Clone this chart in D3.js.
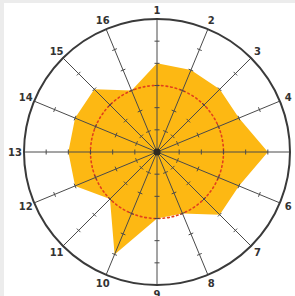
<!DOCTYPE html>
<html>
<head>
<meta charset="utf-8">
<script src="https://cdn.jsdelivr.net/npm/d3@7"></script>
<style>
  body { margin: 0; background: #fff; }
  svg { display: block; }
</style>
</head>
<body>
<svg id="chart" width="295" height="296"></svg>
<script>
// spokes numbered clockwise from the top
var spokes = ["1","2","3","4","5","6","7","8","9","10","11","12","13","14","15","16"];
var values = [4, 4, 4, 4, 5, 4, 4, 3, 3, 5, 3, 4, 4, 4, 4, 3];
var tickSteps = [1, 2, 3, 4, 5];
var maxValue = 6;
var refLevel = 3;

var svg = d3.select("#chart"),
    cx = 157, cy = 152, R = 133;

// faint scan-like border
svg.append("rect").attr("width", 295).attr("height", 296).attr("fill", "#ececec");
svg.append("rect").attr("x", 4).attr("y", 3).attr("width", 291).attr("height", 293).attr("fill", "#fff");

var g = svg.append("g").attr("transform", `translate(${cx},${cy})`);

var r = d3.scaleLinear().domain([0, maxValue]).range([0, R]);
var angle = d3.scaleBand().domain(spokes).range([0, 2 * Math.PI]).align(0);
var ang = d => angle(d); // band start == spoke angle

// filled shape
var radial = d3.lineRadial()
  .angle((d, i) => ang(spokes[i]))
  .radius(d => r(d))
  .curve(d3.curveLinearClosed);
g.append("path")
  .attr("d", radial(values))
  .attr("fill", "#fdb813");

// red dotted reference circle
g.append("circle")
  .attr("r", r(refLevel))
  .attr("fill", "none")
  .attr("stroke", "#e2401c")
  .attr("stroke-width", 1.6)
  .attr("stroke-dasharray", "1.6,3")
  .attr("stroke-linecap", "round");

// spokes
function pt(a, rad) { return [Math.sin(a) * rad, -Math.cos(a) * rad]; }
var spoke = g.selectAll(".spoke").data(spokes).enter().append("g").attr("class", "spoke");
spoke.append("line")
  .attr("x1", 0).attr("y1", 0)
  .attr("x2", d => pt(ang(d), R)[0])
  .attr("y2", d => pt(ang(d), R)[1])
  .attr("stroke", "#4a4a4a")
  .attr("stroke-width", 1);

// tick marks across each spoke
spoke.selectAll(".tick")
  .data(d => tickSteps.map(t => ({a: ang(d), t: t})))
  .enter().append("line")
  .attr("class", "tick")
  .attr("x1", d => pt(d.a, r(d.t))[0] + Math.cos(d.a) * 2.5)
  .attr("y1", d => pt(d.a, r(d.t))[1] + Math.sin(d.a) * 2.5)
  .attr("x2", d => pt(d.a, r(d.t))[0] - Math.cos(d.a) * 2.5)
  .attr("y2", d => pt(d.a, r(d.t))[1] - Math.sin(d.a) * 2.5)
  .attr("stroke", "#4a4a4a")
  .attr("stroke-width", 1);

// outer ring
g.append("circle")
  .attr("r", R)
  .attr("fill", "none")
  .attr("stroke", "#3a3a3a")
  .attr("stroke-width", 2);

// hub
g.append("circle").attr("r", 3.5).attr("fill", "#2e2a20");

// labels
g.selectAll(".lbl").data(spokes).enter().append("text")
  .attr("class", "lbl")
  .attr("x", d => pt(ang(d), R + 9)[0])
  .attr("y", d => pt(ang(d), R + 9)[1])
  .attr("text-anchor", "middle")
  .attr("dominant-baseline", "central")
  .attr("font-family", "DejaVu Sans, sans-serif")
  .attr("font-size", 10)
  .attr("font-weight", "bold")
  .attr("fill", "#333")
  .text(d => d);
</script>
</body>
</html>
